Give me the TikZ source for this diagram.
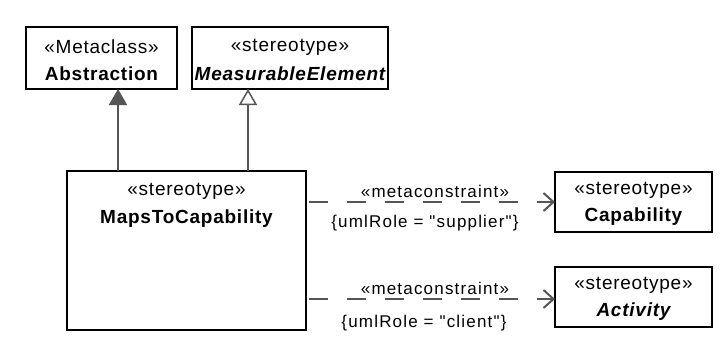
\documentclass[tikz,border=0pt]{standalone}
\usepackage{fontspec}
\setmainfont{Liberation Sans}[Ligatures=TeXOff]
\usetikzlibrary{arrows.meta}
\definecolor{linegray}{HTML}{555555}
\tikzset{
  umlbox/.style={draw=black, line width=2pt, fill=white, inner sep=0pt},
  txt/.style={font=\fontsize{19}{21}\selectfont\addfontfeature{LetterSpace=4}, inner sep=0pt, anchor=center},
  genfill/.style={draw=linegray, line width=2pt, -{Triangle[length=16pt,width=18pt,fill=linegray]}},
  genopen/.style={draw=linegray, line width=2pt, -{Triangle[open,length=16pt,width=18pt,line width=1.5pt]}},
  depend/.style={draw=linegray, line width=2pt, dash pattern=on 19pt off 19pt, dash phase=-3pt, -{Straight Barb[length=10pt,width=18pt,line width=2pt]}},
  lbl/.style={font=\fontsize{17}{19}\selectfont\addfontfeature{LetterSpace=7}, inner sep=0pt, text=black}
}
\begin{document}
\begin{tikzpicture}[x=1pt,y=-1pt]
\useasboundingbox (0,0) rectangle (721,346);
\fill[white] (0,0) rectangle (721,346);
% boxes
\draw[umlbox] (26,27) rectangle (177,89);
\coordinate (absB) at (118,89);
\node[txt] (abs1) at (101.5,47) {«Metaclass»};
\node[txt] (abs2) at (101.5,74) {\bfseries Abstraction};

\draw[umlbox] (192,27) rectangle (388,89);
\coordinate (meB) at (248,89);
\node[txt] (me1) at (290,47) {«stereotype»};
\node[txt] (me2) at (290,74) {\bfseries\itshape MeasurableElement};

\draw[umlbox] (67,171) rectangle (306,330);
\coordinate (mtT1) at (118,171);
\coordinate (mtT2) at (248,171);
\coordinate (mtR1) at (306,202);
\coordinate (mtR2) at (306,299);
\node[txt] (mt1) at (186.5,191) {«stereotype»};
\node[txt] (mt2) at (186.5,219) {\bfseries MapsToCapability};

\draw[umlbox] (555,172) rectangle (712,232);
\coordinate (capL) at (555,202);
\node[txt] (cap1) at (633.5,190) {«stereotype»};
\node[txt] (cap2) at (633.5,217) {\bfseries Capability};

\draw[umlbox] (555,267) rectangle (712,327);
\coordinate (actL) at (555,299);
\node[txt] (act1) at (633.5,285) {«stereotype»};
\node[txt] (act2) at (633.5,312) {\bfseries\itshape Activity};

% connectors
\draw[genfill] (mtT1) -- (absB);
\draw[genopen] (mtT2) -- (meB);
\draw[depend] (mtR1) -- (capL);
\draw[depend] (mtR2) -- (actL);

% labels
\node[lbl] (l1) at (435,191) {«metaconstraint»};
\node[lbl] (l2) at (425,223) {\{umlRole = "supplier"\}};
\node[lbl] (l3) at (435,288) {«metaconstraint»};
\node[lbl] (l4) at (424,323) {\{umlRole = "client"\}};
\end{tikzpicture}
\end{document}
